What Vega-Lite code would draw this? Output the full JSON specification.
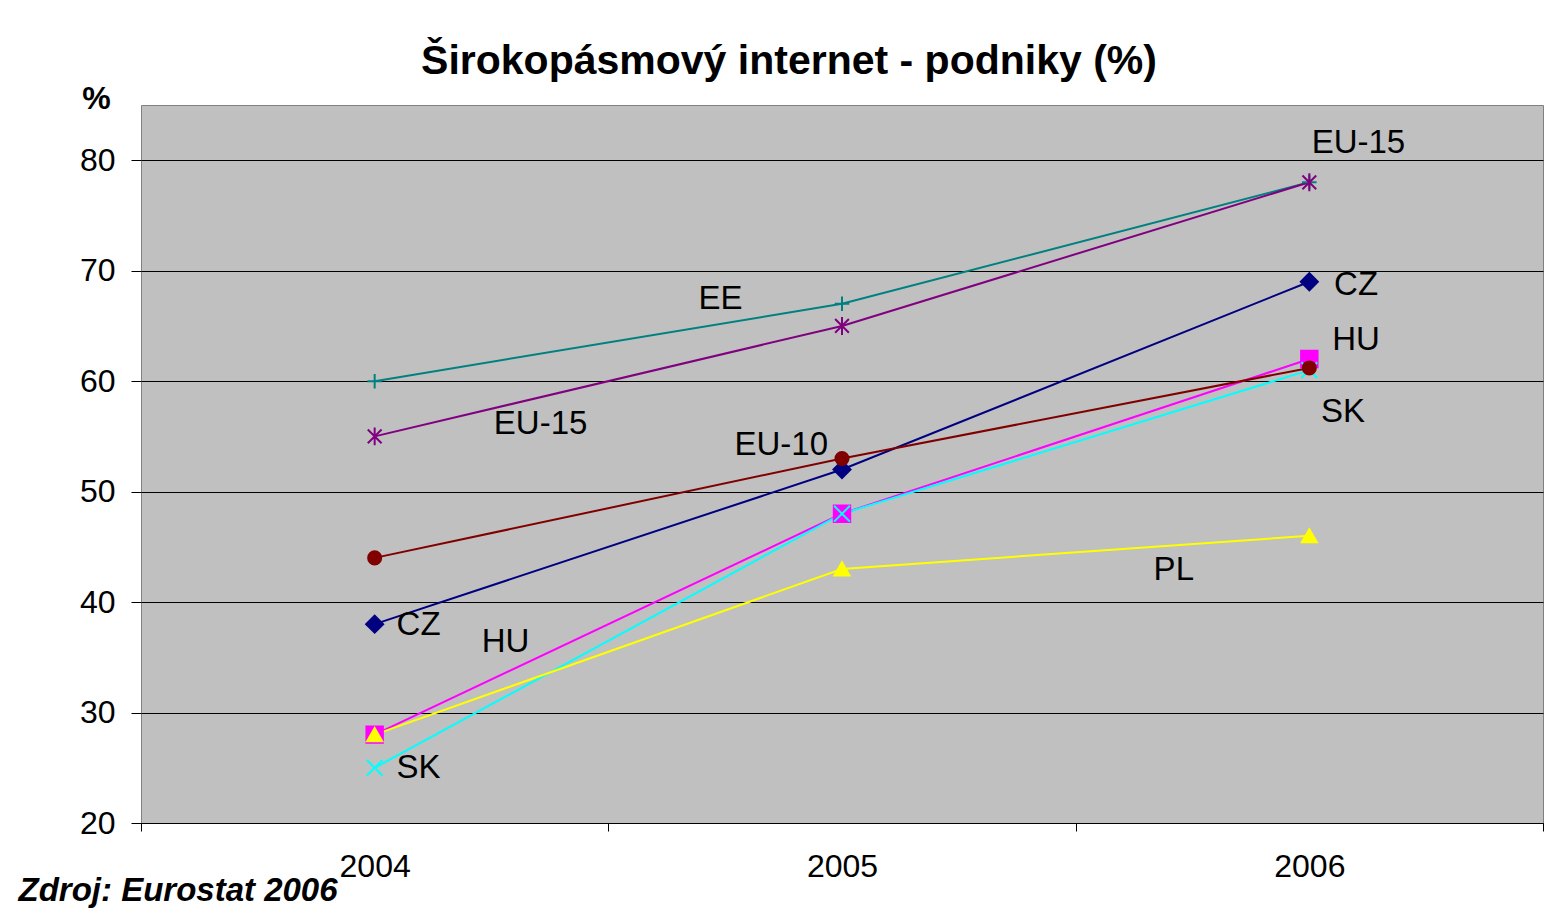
{
  "$schema": "https://vega.github.io/schema/vega-lite/v6.json",
  "autosize": {"type": "none"},
  "width": 1402,
  "height": 718,
  "padding": {"left": 141, "top": 105, "right": 7, "bottom": 93},
  "background": "white",
  "title": {
    "text": "Širokopásmový internet - podniky (%)",
    "font": "Liberation Sans",
    "fontSize": 41,
    "fontWeight": "bold",
    "color": "black",
    "anchor": "middle",
    "frame": "group",
    "dx": -53,
    "baseline": "alphabetic",
    "offset": 32,
    "dy": 65
  },
  "config": {
    "view": {"fill": "#C0C0C0", "stroke": "#808080", "strokeWidth": 1},
    "font": "Liberation Sans"
  },
  "datasets": {
    "series": [
      {"series": "CZ", "year": 2004, "value": 38},
      {"series": "CZ", "year": 2005, "value": 52},
      {"series": "CZ", "year": 2006, "value": 69},
      {"series": "HU", "year": 2004, "value": 28},
      {"series": "HU", "year": 2005, "value": 48},
      {"series": "HU", "year": 2006, "value": 62},
      {"series": "SK", "year": 2004, "value": 25},
      {"series": "SK", "year": 2005, "value": 48},
      {"series": "SK", "year": 2006, "value": 61},
      {"series": "PL", "year": 2004, "value": 28},
      {"series": "PL", "year": 2005, "value": 43},
      {"series": "PL", "year": 2006, "value": 46},
      {"series": "EE", "year": 2004, "value": 60},
      {"series": "EE", "year": 2005, "value": 67},
      {"series": "EE", "year": 2006, "value": 78},
      {"series": "EU-15", "year": 2004, "value": 55},
      {"series": "EU-15", "year": 2005, "value": 65},
      {"series": "EU-15", "year": 2006, "value": 78},
      {"series": "EU-10", "year": 2004, "value": 44},
      {"series": "EU-10", "year": 2005, "value": 53},
      {"series": "EU-10", "year": 2006, "value": 61.2}
    ],
    "labels": [
      {"label": "EU-15", "year": 2006.105, "value": 81.6},
      {"label": "EE", "year": 2004.74, "value": 67.4},
      {"label": "CZ", "year": 2006.1, "value": 68.7},
      {"label": "HU", "year": 2006.1, "value": 63.7},
      {"label": "SK", "year": 2006.072, "value": 57.2},
      {"label": "EU-15", "year": 2004.355, "value": 56.1},
      {"label": "EU-10", "year": 2004.87, "value": 54.2},
      {"label": "PL", "year": 2005.71, "value": 42.9},
      {"label": "CZ", "year": 2004.094, "value": 37.9},
      {"label": "HU", "year": 2004.28, "value": 36.4},
      {"label": "SK", "year": 2004.094, "value": 25.0}
    ]
  },
  "encoding": {
    "x": {
      "field": "year",
      "type": "quantitative",
      "scale": {"domain": [2003.5, 2006.5], "nice": false, "zero": false},
      "axis": {
        "values": [2003.5, 2004, 2004.5, 2005, 2005.5, 2006, 2006.5],
        "labelExpr": "datum.value % 1 === 0 ? format(datum.value, 'd') : ''",
        "grid": false,
        "domain": true,
        "domainColor": "black",
        "domainWidth": 1,
        "tickSize": 8,
        "tickColor": {"condition": {"test": "datum.value % 1 === 0", "value": "transparent"}, "value": "black"},
        "labelFont": "Liberation Sans",
        "labelFontSize": 32,
        "labelColor": "black",
        "labelPadding": 20,
        "labelFlush": false,
        "labelOverlap": false,
        "title": "Zdroj: Eurostat 2006",
        "titleFont": "Liberation Sans",
        "titleFontSize": 33,
        "titleFontWeight": "bold",
        "titleFontStyle": "italic",
        "titleColor": "black",
        "titleAnchor": "start",
        "titleAlign": "left",
        "titleBaseline": "middle",
        "titleX": -123,
        "titleY": 67
      }
    },
    "y": {
      "field": "value",
      "type": "quantitative",
      "scale": {"domain": [20, 85], "nice": false, "zero": false},
      "axis": {
        "values": [20, 30, 40, 50, 60, 70, 80],
        "grid": true,
        "gridColor": "black",
        "gridWidth": 1,
        "domain": false,
        "tickColor": "black",
        "tickSize": 10,
        "labelFont": "Liberation Sans",
        "labelFontSize": 32,
        "labelColor": "black",
        "labelPadding": 16,
        "title": "%",
        "titleFont": "Liberation Sans",
        "titleFontSize": 32,
        "titleFontWeight": "bold",
        "titleColor": "black",
        "titleAngle": 0,
        "titleAlign": "center",
        "titleBaseline": "middle",
        "titleX": -45,
        "titleY": -7
      }
    }
  },
  "layer": [
    {
      "data": {"name": "series"},
      "mark": {"type": "line", "strokeWidth": 2},
      "encoding": {
        "detail": {"field": "series"},
        "color": {
          "field": "series",
          "type": "nominal",
          "legend": null,
          "scale": {
            "domain": ["CZ", "HU", "SK", "PL", "EE", "EU-15", "EU-10"],
            "range": ["#000080", "#FF00FF", "#00FFFF", "#FFFF00", "#008080", "#800080", "#800000"]
          }
        }
      }
    },
    {
      "data": {"name": "series"},
      "mark": {"type": "point", "filled": true, "strokeWidth": 2, "opacity": 1},
      "encoding": {
        "color": {
          "field": "series",
          "type": "nominal",
          "legend": null
        },
        "stroke": {
          "field": "series",
          "type": "nominal",
          "legend": null,
          "scale": {
            "domain": ["CZ", "HU", "SK", "PL", "EE", "EU-15", "EU-10"],
            "range": ["#000080", "#FF00FF", "#00FFFF", "#FFFF00", "#008080", "#800080", "#800000"]
          }
        },
        "shape": {
          "field": "series",
          "type": "nominal",
          "legend": null,
          "scale": {
            "domain": ["CZ", "HU", "SK", "PL", "EE", "EU-15", "EU-10"],
            "range": ["diamond", "square", "M-1,-1L1,1M-1,1L1,-1", "triangle-up", "M-1,0L1,0M0,-1L0,1", "M-1,-1L1,1M-1,1L1,-1M0,-1.3L0,1.3", "circle"]
          }
        },
        "size": {
          "field": "series",
          "type": "nominal",
          "legend": null,
          "scale": {
            "domain": ["CZ", "HU", "SK", "PL", "EE", "EU-15", "EU-10"],
            "range": [290, 170, 210, 360, 300, 220, 170]
          }
        }
      }
    },
    {
      "data": {"name": "labels"},
      "mark": {"type": "text", "font": "Liberation Sans", "fontSize": 33, "color": "black", "align": "center", "baseline": "middle"},
      "encoding": {
        "text": {"field": "label"}
      }
    }
  ]
}
